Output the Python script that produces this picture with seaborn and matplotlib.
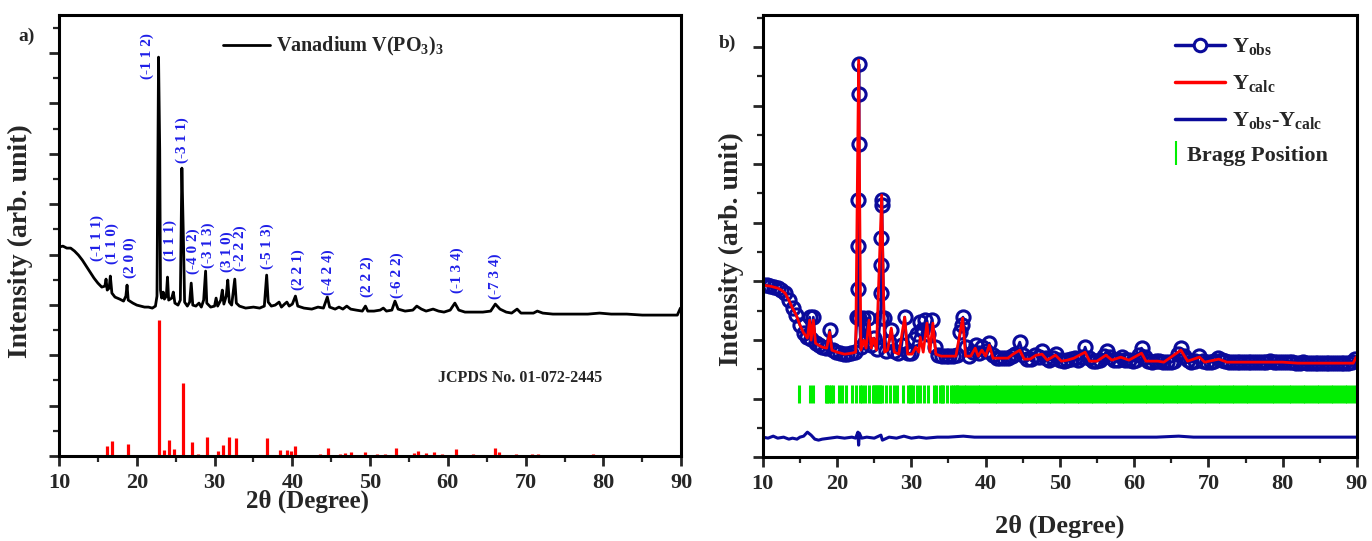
import matplotlib
matplotlib.use('Agg')
import matplotlib.pyplot as plt
import seaborn as sns
import numpy as np
import pandas as pd
from matplotlib.lines import Line2D
from matplotlib.ticker import MultipleLocator

# ---------------- a) measured pattern (2theta, intensity a.u.) ----------------
xrd_2theta = [10.0, 10.5, 11.0, 11.5, 12.0, 12.5, 13.0, 13.5, 14.0, 14.5, 15.0, 15.5,
              15.9, 16.05, 16.2, 16.45, 16.6, 16.8, 17.2, 17.8, 18.3, 18.6, 18.75, 18.9,
              19.5, 20.0, 20.5, 21.0, 21.5, 22.0, 22.4, 22.6, 22.8, 22.95, 23.05, 23.2,
              23.4, 23.55, 23.8, 23.95, 24.1, 24.5, 24.7, 24.9, 25.3, 25.6, 25.8, 26.0,
              26.15, 26.5, 26.8, 27.0, 27.2, 27.6, 28.0, 28.3, 28.6, 28.85, 29.0, 29.5,
              30.0, 30.2, 30.4, 30.8, 31.0, 31.2, 31.5, 31.7, 31.9, 32.2, 32.6, 32.8,
              33.2, 34.0, 35.0, 35.8, 36.4, 36.7, 36.9, 37.3, 37.8, 38.3, 38.6, 39.0,
              39.3, 39.6, 40.0, 40.4, 40.7, 41.5, 42.5, 43.3, 44.0, 44.5, 44.8, 45.5,
              46.0, 46.5, 47.0, 47.5, 48.2, 49.0, 49.4, 49.7, 50.5, 51.3, 51.7, 52.1,
              52.8, 53.2, 53.6, 54.5, 55.5, 56.0, 56.6, 57.2, 58.1, 58.8, 59.5, 60.3,
              60.9, 61.4, 62.2, 63.2, 64.5, 65.5, 66.1, 66.7, 67.5, 68.2, 68.9, 69.4,
              70.2, 71.0, 71.5, 72.2, 73.5, 75.0, 76.5, 78.0, 79.5, 81.0, 83.0, 85.0,
              87.0, 88.5, 89.5, 89.9, 90.0]
xrd_int = [209, 210, 208, 208, 205, 201, 196, 190, 184, 178, 173, 169,
           170, 177, 166, 168, 180, 163, 159, 157, 155, 160, 171, 156,
           153, 151, 150, 149, 149, 148, 150, 160, 399, 306, 166, 158,
           164, 157, 160, 179, 156, 158, 164, 153, 151, 156, 288, 216,
           154, 150, 154, 173, 151, 150, 153, 149, 156, 185, 153, 149,
           150, 158, 150, 156, 166, 152, 160, 176, 154, 151, 177, 153,
           150, 148, 149, 148, 150, 181, 154, 150, 151, 154, 149, 152,
           154, 150, 152, 160, 150, 148, 147, 149, 148, 159, 149, 147,
           149, 147, 150, 147, 146, 145, 150, 145, 145, 146, 148, 145,
           146, 155, 147, 145, 146, 150, 147, 145, 147, 145, 144, 146,
           153, 146, 144, 144, 144, 145, 152, 147, 144, 143, 147, 143,
           143, 143, 145, 143, 142, 142, 142, 142, 143, 142, 142, 141,
           141, 141, 141, 148, 146]

# reference card sticks
jcpds_2theta = [16.2, 16.8, 18.9, 22.8, 23.5, 24.1, 24.8, 25.9, 27.1, 27.9, 29.0, 30.4,
                31.1, 31.8, 32.7, 36.8, 38.4, 39.3, 39.8, 40.4, 43.5, 44.6, 46.1, 46.8,
                47.6, 49.4, 50.9, 51.9, 53.3, 55.6, 56.1, 57.2, 58.2, 59.3, 61.1, 63.2,
                66.1, 66.6, 68.7, 70.8, 71.6, 74.0, 75.5, 77.1, 78.7, 80.3, 81.6, 82.9, 85.0]
jcpds_int = [10, 15, 12, 136, 6, 16, 7, 73, 14, 2, 19, 5,
             11, 19, 18, 18, 6, 6, 5, 10, 2, 8, 2, 3,
             4, 4, 2, 2, 8, 3, 5, 3, 4, 2, 7, 2,
             8, 4, 2, 2, 2, 1.5, 1.5, 1.5, 2, 1.5, 1.5, 1.5, 1]

hkl_labels = ['(-1 1 1)', '(1 1 0)', '(2 0 0)', '(-1 1 2)', '(1 1 1)', '(-3 1 1)',
              '(-4 0 2)', '(-3 1 3)', '(3 1 0)', '(-2 2 2)', '(-5 1 3)', '(2 2 1)',
              '(-4 2 4)', '(2 2 2)', '(-6 2 2)', '(-1 3 4)', '(-7 3 4)']
hkl_x = [14.9, 16.9, 19.1, 21.4, 24.3, 25.9, 27.2, 29.2, 31.6, 33.3, 36.8, 40.7,
         44.6, 49.6, 53.5, 61.2, 66.1]
hkl_y = [218, 213, 198, 400, 216, 316, 205, 211, 204, 208, 210, 186,
         184, 179, 181, 186, 180]

# ---------------- b) Rietveld refinement ----------------
calc_2theta = [10.0, 11.0, 12.0, 12.5, 13.0, 13.5, 14.0, 14.5, 15.0, 15.5, 16.0, 16.3,
               16.5, 16.8, 17.1, 17.5, 18.0, 18.6, 19.0, 19.3, 20.0, 21.0, 22.0, 22.5,
               22.9, 23.2, 23.6, 23.9, 24.3, 24.6, 24.9, 25.3, 26.0, 26.4, 26.8, 27.3,
               27.7, 28.3, 29.1, 29.5, 30.1, 30.6, 31.0, 31.2, 31.6, 32.1, 32.5, 32.9,
               33.3, 34.0, 35.0, 36.0, 36.9, 37.3, 38.0, 38.6, 39.0, 39.5, 40.0, 40.5,
               41.0, 42.0, 43.0, 43.7, 44.6, 45.2, 46.0, 46.8, 47.6, 48.3, 49.4, 50.2,
               51.0, 51.9, 53.4, 54.0, 55.0, 56.2, 57.0, 58.2, 59.3, 61.0, 61.6, 63.2,
               64.0, 66.3, 67.2, 68.8, 69.5, 71.4, 72.5, 75.0, 78.0, 80.0, 82.0, 85.0,
               88.0, 89.5, 89.9]
calc_int = [172, 171, 169, 167, 164, 157, 149, 142, 132, 124, 119, 137,
            117, 137, 114, 112, 110, 109, 125, 107, 105, 103, 104, 105,
            397, 107, 117, 109, 137, 109, 119, 107, 262, 105, 107, 129,
            105, 103, 140, 103, 103, 110, 105, 120, 105, 134, 105, 134,
            103, 101, 101, 101, 139, 101, 101, 109, 101, 107, 101, 112,
            99, 99, 99, 103, 107, 98, 98, 102, 103, 97, 102, 96,
            97, 99, 105, 96, 96, 102, 97, 100, 97, 104, 96, 96,
            95, 107, 96, 100, 95, 98, 95, 95, 95, 95, 94, 94,
            94, 94, 100]

obs_2theta = [10.0, 10.5, 11.0, 11.5, 12.0, 12.5, 13.0, 13.5, 14.0, 14.5, 15.0, 15.5,
              15.9, 16.3, 16.55, 16.8, 17.1, 17.5, 18.0, 18.5, 19.0, 19.4, 19.9, 20.4,
              20.9, 21.4, 21.9, 22.4, 22.7, 22.82, 22.86, 22.88, 22.9, 22.92, 22.94, 23.0,
              23.2, 23.5, 23.8, 24.2, 24.6, 25.0, 25.4, 25.85, 25.92, 25.95, 25.98, 26.0,
              26.02, 26.3, 26.6, 27.0, 27.3, 27.7, 28.2, 28.7, 29.1, 29.5, 30.0, 30.4,
              30.7, 31.1, 31.5, 31.9, 32.3, 32.8, 33.2, 33.6, 34.1, 34.6, 35.1, 35.6,
              36.1, 36.6, 36.8, 36.95, 37.3, 37.8, 38.3, 38.7, 39.1, 39.5, 40.0, 40.5,
              41.0, 41.5, 42.0, 42.5, 43.0, 43.5, 44.0, 44.6, 45.1, 45.6, 46.1, 46.7,
              47.2, 47.6, 48.1, 48.6, 49.1, 49.5, 50.0, 50.5, 51.0, 51.5, 52.0, 52.5,
              53.0, 53.4, 53.9, 54.4, 54.9, 55.4, 55.9, 56.3, 56.8, 57.3, 57.8, 58.3,
              58.8, 59.3, 59.8, 60.3, 60.7, 61.0, 61.4, 61.9, 62.4, 62.9, 63.4, 63.9,
              64.4, 64.9, 65.4, 65.9, 66.3, 66.7, 67.2, 67.7, 68.2, 68.8, 69.3, 69.8,
              70.3, 70.8, 71.3, 71.8, 72.3, 72.8, 73.3, 73.8, 74.3, 74.8, 75.3, 75.8,
              76.3, 76.8, 77.3, 77.8, 78.3, 78.8, 79.3, 79.8, 80.3, 80.8, 81.3, 81.8,
              82.3, 82.8, 83.3, 83.8, 84.3, 84.8, 85.3, 85.8, 86.3, 86.8, 87.3, 87.8,
              88.3, 88.8, 89.3, 89.8]
obs_int = [172, 172, 171, 170, 169, 167, 164, 157, 149, 142, 132, 124,
           120, 140, 118, 140, 114, 112, 110, 109, 127, 107, 105, 104,
           103, 103, 104, 105, 140, 168, 211, 257, 313, 363, 393, 139,
           110, 139, 115, 139, 112, 119, 108, 139, 164, 192, 219, 252,
           257, 139, 106, 115, 127, 106, 104, 112, 140, 104, 104, 118,
           123, 135, 127, 137, 123, 137, 110, 102, 101, 101, 101, 101,
           102, 125, 132, 140, 110, 101, 105, 112, 104, 110, 106, 114,
           102, 99, 99, 99, 99, 101, 103, 115, 102, 98, 98, 102,
           100, 106, 99, 97, 99, 103, 97, 96, 97, 98, 99, 97,
           100, 110, 99, 96, 96, 97, 101, 106, 100, 97, 97, 100,
           97, 97, 96, 97, 102, 109, 100, 96, 95, 96, 96, 95,
           95, 95, 96, 103, 109, 101, 97, 95, 96, 101, 96, 95,
           95, 96, 99, 97, 96, 95, 95, 95, 95, 95, 95, 95,
           95, 95, 95, 95, 96, 95, 95, 95, 95, 95, 95, 94,
           94, 95, 94, 94, 94, 94, 94, 94, 94, 94, 94, 94,
           94, 94, 95, 98]

diff_2theta = [10, 10.7, 11.4, 12, 12.8, 13.5, 14, 14.6, 15, 15.5, 16.0, 16.5, 17, 17.5,
               18, 19, 20, 21, 22, 22.5, 22.8, 22.9, 23.0, 23.3, 24, 25, 25.9, 26.1,
               27, 28, 29, 30, 31, 32, 33.5, 35, 37, 38.5, 40, 42, 45, 47, 50, 53,
               55, 58, 60, 63, 66, 68, 70, 75, 80, 85, 90]
diff_int = [20, 19, 21, 19, 20, 18, 19, 18, 20, 21, 25, 22, 18, 17,
            18, 19, 20, 19, 20, 19, 25, 12, 24, 19, 20, 19, 22, 17,
            20, 19, 21, 19, 20, 19, 20, 20, 21, 20, 20, 20, 20, 20, 20, 20,
            20, 20, 20, 20, 21, 20, 20, 20, 20, 20, 20]

bragg_2theta = [14.9, 16.3, 16.8, 18.5, 18.7, 18.9, 19.2, 19.4, 20.2, 20.7, 21.2, 22.0,
                22.5, 23.1, 23.4, 23.8, 24.3, 24.8, 25.0, 25.2, 25.4, 25.6, 25.8, 26.0,
                26.6, 27.1, 27.6, 28.1, 28.9, 29.6, 29.8, 30.0, 30.2, 30.7, 31.2, 31.7,
                32.3, 33.0, 33.3, 33.8, 34.1, 34.3, 34.8, 35.4, 35.6, 35.9, 36.1,
                36.3, 36.7, 37.1, 37.4, 37.8, 38.2, 38.6, 39.0, 39.3, 39.7, 40.1, 40.5,
                40.9, 41.2, 41.6, 42.0, 42.4, 42.8, 43.1, 43.5, 43.9, 44.3, 44.7, 45.0,
                45.4, 45.8, 46.2, 46.6, 46.9, 47.3, 47.7, 48.1, 48.5, 48.8, 49.2, 49.6,
                50.0, 50.4, 50.7, 51.1, 51.5, 51.9, 52.3, 52.6, 53.0, 53.4, 53.8, 54.2,
                54.5, 54.9, 55.3, 55.7, 56.1, 56.4, 56.8, 57.2, 57.6, 58.0, 58.3, 58.7,
                59.1, 59.5, 59.9, 60.2, 60.6, 61.0, 61.4, 61.8, 62.1, 62.5, 62.9, 63.3,
                63.7, 64.0, 64.4, 64.8, 65.2, 65.6, 65.9, 66.3, 66.7, 67.1, 67.5, 67.8,
                68.2, 68.6, 69.0, 69.4, 69.7, 70.1, 70.5, 70.9, 71.3, 71.6, 72.0, 72.4,
                72.8, 73.2, 73.5, 73.9, 74.3, 74.7, 75.1, 75.4, 75.8, 76.2, 76.6, 77.0,
                77.3, 77.7, 78.1, 78.5, 78.9, 79.2, 79.6, 80.0, 80.4, 80.8, 81.1, 81.5,
                81.9, 82.3, 82.7, 83.0, 83.4, 83.8, 84.2, 84.6, 84.9, 85.3, 85.7, 86.1,
                86.5, 86.8, 87.2, 87.6, 88.0, 88.4, 88.7, 89.1, 89.5, 89.9]
bragg_low, bragg_high = 54, 72

BLUE_TXT = '#1f1fe8'
NAVY = '#0a0a9a'
RED = '#ff0000'
GREEN = '#00ee00'
FONT = 'Liberation Serif'


def style_axis(ax, ymax, ystep):
    ax.set_xlim(10, 90)
    ax.set_ylim(0, ymax)
    ax.xaxis.set_major_locator(MultipleLocator(10))
    ax.xaxis.set_minor_locator(MultipleLocator(5))
    ax.yaxis.set_major_locator(MultipleLocator(2 * ystep))
    ax.yaxis.set_minor_locator(MultipleLocator(ystep))
    ax.set_yticklabels([])
    ax.tick_params(which='major', direction='out', length=7, width=2, labelsize=16, pad=5)
    ax.tick_params(which='minor', direction='out', length=4, width=1.6)
    for lab in ax.get_xticklabels():
        lab.set_fontweight('bold')
    for sp in ax.spines.values():
        sp.set_linewidth(2.2)
        sp.set_visible(True)
        sp.set_color('black')


def main():
    sns.set_theme(style='ticks')
    plt.rcParams['font.family'] = [FONT, 'DejaVu Serif']
    plt.rcParams['font.weight'] = 'bold'
    plt.rcParams['mathtext.fontset'] = 'custom'
    plt.rcParams['mathtext.rm'] = FONT + ':bold'
    plt.rcParams['mathtext.it'] = FONT + ':bold'
    plt.rcParams['mathtext.bf'] = FONT + ':bold'

    fig = plt.figure(figsize=(13.72, 5.41), dpi=100)
    ax1 = fig.add_axes([0.043, 0.157, 0.4535, 0.815])
    ax2 = fig.add_axes([0.556, 0.155, 0.433, 0.817])

    # ---- panel a ----
    df_a = pd.DataFrame({'tt': xrd_2theta, 'I': xrd_int})
    sns.lineplot(data=df_a, x='tt', y='I', ax=ax1, sort=False, estimator=None,
                 color='black', linewidth=2.0, label=r'Vanadium V(PO$_3$)$_3$')
    ax1.vlines(jcpds_2theta, 0, jcpds_int, color=RED, linewidth=2.3)
    for lab, x, y in zip(hkl_labels, hkl_x, hkl_y):
        ax1.text(x, y, lab, rotation=90, ha='center', va='center', color=BLUE_TXT,
                 fontsize=11, fontweight='bold')
    ax1.text(69.3, 78, 'JCPDS No. 01-072-2445', ha='center', va='center',
             fontsize=11.5, fontweight='bold')
    style_axis(ax1, 441, 25.2)
    ax1.set_xlabel('2θ (Degree)', fontsize=18, fontweight='bold')
    ax1.set_ylabel('Intensity (arb. unit)', fontsize=20, fontweight='bold')
    ax1.xaxis.set_label_coords(0.40, -0.077)
    ax1.yaxis.set_label_coords(-0.042, 0.488)
    ax1.legend(loc='upper left', bbox_to_anchor=(0.235, 0.996), frameon=False,
               fontsize=14.5, handlelength=2.3, handletextpad=0.3)

    # ---- panel b ----
    df_obs = pd.DataFrame({'tt': obs_2theta, 'I': obs_int})
    df_calc = pd.DataFrame({'tt': calc_2theta, 'I': calc_int})
    df_diff = pd.DataFrame({'tt': diff_2theta, 'I': diff_int})
    sns.lineplot(data=df_obs, x='tt', y='I', ax=ax2, sort=False, estimator=None,
                 color=NAVY, linewidth=2.0, marker='o', markersize=9.5,
                 markerfacecolor='none', markeredgecolor=NAVY, markeredgewidth=2.2)
    sns.lineplot(data=df_calc, x='tt', y='I', ax=ax2, sort=False, estimator=None,
                 color=RED, linewidth=2.0)
    sns.lineplot(data=df_diff, x='tt', y='I', ax=ax2, sort=False, estimator=None,
                 color=NAVY, linewidth=2.2)
    ax2.vlines(bragg_2theta, bragg_low, bragg_high, color=GREEN, linewidth=2.2)
    style_axis(ax2, 442, 29.3)
    ax2.set_xlabel('2θ (Degree)', fontsize=19, fontweight='bold')
    ax2.set_ylabel('Intensity (arb. unit)', fontsize=20, fontweight='bold')
    ax2.xaxis.set_label_coords(0.50, -0.13)
    ax2.yaxis.set_label_coords(-0.032, 0.47)

    handles = [
        Line2D([], [], color=NAVY, lw=2.5, marker='o', ms=9, mfc='white', mec=NAVY, mew=2.2),
        Line2D([], [], color=RED, lw=2.5),
        Line2D([], [], color=NAVY, lw=2.5),
    ]
    labels = [r'$Y_{obs}$', r'$Y_{calc}$', r'$Y_{obs}$-$Y_{calc}$']
    leg = ax2.legend(handles, labels, loc='upper left', bbox_to_anchor=(0.694, 0.952),
                     frameon=False, fontsize=16, handlelength=2.25, handletextpad=0.3,
                     labelspacing=0.72, numpoints=1, borderaxespad=0, borderpad=0)
    ax2.add_artist(leg)
    bragg_handle = Line2D([], [], color=GREEN, lw=0, marker='|', ms=17, mew=1.5)
    ax2.legend([bragg_handle], ['Bragg Position'], loc='center left',
               bbox_to_anchor=(0.68, 0.683), frameon=False, fontsize=16,
               handlelength=0.8, handletextpad=0.1, numpoints=1,
               borderaxespad=0, borderpad=0)

    fig.text(0.019, 0.933, 'a)', fontsize=14, fontweight='bold', ha='center', va='center')
    fig.text(0.530, 0.920, 'b)', fontsize=14, fontweight='bold', ha='center', va='center')

    fig.savefig('out.png', dpi=100)


if __name__ == '__main__':
    main()
